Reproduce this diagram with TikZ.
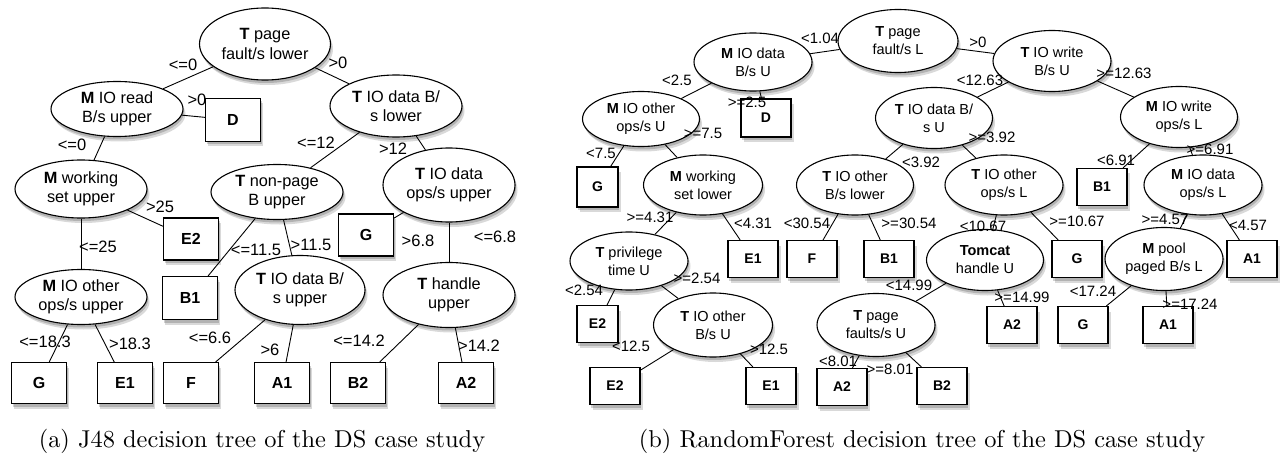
\documentclass[tikz,border=0pt]{standalone}
\usepackage{fontspec}
\newfontfamily\hv{Liberation Sans}
\usetikzlibrary{shapes.geometric,shadows,backgrounds}
\begin{document}
\begin{tikzpicture}[x=1pt,y=-1pt,
  shd/.style={drop shadow={shadow xshift=1pt,shadow yshift=-3pt,opacity=0.18,fill=black},
              drop shadow={shadow xshift=2.5pt,shadow yshift=-5pt,opacity=0.15,fill=black}},
  condA/.style={ellipse,draw,fill=white,line width=1.1pt,inner sep=0pt,align=center,shd,font=\hv\fontsize{16.3}{19.5}\selectfont},
  condB/.style={condA,font=\hv\fontsize{14.5}{18}\selectfont},
  leafA/.style={rectangle,draw,fill=white,line width=1.1pt,inner sep=0pt,shd,minimum width=55,minimum height=42,font=\hv\bfseries\fontsize{16}{19}\selectfont},
  leafB/.style={leafA,minimum width=50,minimum height=37,font=\hv\bfseries\fontsize{14}{17}\selectfont},
  labA/.style={inner sep=0pt,font=\hv\fontsize{16.5}{19}\selectfont},
  labB/.style={inner sep=0pt,font=\hv\fontsize{15}{18}\selectfont},
  conn/.style={line width=0.9pt},
  capt/.style={inner sep=0pt,anchor=base}
]
\useasboundingbox (0,0) rectangle (1281,457);

% ---------------- (a) J48 tree ----------------
\node[condA,minimum width=131,minimum height=72] (a1) at (265,44) {\textbf{T} page\\fault/s lower};
\node[condA,minimum width=132,minimum height=55] (a2) at (117,109) {\textbf{M} IO read\\B/s upper};
\node[leafA,minimum height=43] (a3) at (233,120) {D};
\node[condA,minimum width=132,minimum height=62] (a4) at (396,106) {\textbf{T} IO data B/\\s lower};
\node[condA,minimum width=132,minimum height=58] (a5) at (81,189) {\textbf{M} working\\set upper};
\node[condA,minimum width=132,minimum height=55] (a6) at (277,192) {\textbf{T} non-page\\B upper};
\node[condA,minimum width=132,minimum height=74] (a7) at (449,185) {\textbf{T} IO data\\ops/s upper};
\node[leafA] (a8) at (191,239) {E2};
\node[leafA] (a9) at (366,235) {G};
\node[condA,minimum width=132,minimum height=55] (a10) at (81,297) {\textbf{M} IO other\\ops/s upper};
\node[leafA,minimum height=43] (a11) at (190,298) {B1};
\node[condA,minimum width=130,minimum height=69] (a12) at (300,290) {\textbf{T} IO data B/\\s upper};
\node[condA,minimum width=132,minimum height=65] (a13) at (449,295) {\textbf{T} handle\\upper};
\node[leafA,minimum height=41] (a14) at (39,383) {G};
\node[leafA,minimum height=41] (a15) at (125,383) {E1};
\node[leafA,minimum height=41] (a16) at (191,383) {F};
\node[leafA,minimum height=41] (a17) at (282,383) {A1};
\node[leafA,minimum height=41] (a18) at (358,383) {B2};
\node[leafA,minimum height=41] (a19) at (466,383) {A2};

% ---------------- (b) RandomForest tree ----------------
\node[condB,minimum width=120,minimum height=63] (b1) at (898,41) {\textbf{T} page\\fault/s L};
\node[condB,minimum width=118,minimum height=58] (b2) at (753,62) {\textbf{M} IO data\\B/s U};
\node[condB,minimum width=118,minimum height=61] (b3) at (1052,61) {\textbf{T} IO write\\B/s U};
\node[condB,minimum width=117,minimum height=55] (b4) at (641,119) {\textbf{M} IO other\\ops/s U};
\node[leafB,minimum height=38] (b5) at (766,118) {D};
\node[condB,minimum width=117,minimum height=61] (b6) at (934,118) {\textbf{T} IO data B/\\s U};
\node[condB,minimum width=117,minimum height=61] (b7) at (1179,117) {\textbf{M} IO write\\ops/s L};
\node[leafB,minimum width=41,minimum height=40] (b8) at (597.5,187) {G};
\node[condB,minimum width=119,minimum height=60] (b9) at (703,185) {\textbf{M} working\\set lower};
\node[condB,minimum width=117,minimum height=60] (b10) at (855,185) {\textbf{T} IO other\\B/s lower};
\node[condB,minimum width=118,minimum height=60] (b11) at (1004,185) {\textbf{T} IO other\\ops/s L};
\node[leafB] (b12) at (1102,187) {B1};
\node[condB,minimum width=118,minimum height=60] (b13) at (1203,185) {\textbf{M} IO data\\ops/s L};
\node[condB,minimum width=118,minimum height=58] (b14) at (629,261) {\textbf{T} privilege\\time U};
\node[leafB] (b15) at (753,259) {E1};
\node[leafB] (b16) at (812,259) {F};
\node[leafB] (b17) at (889,259) {B1};
\node[condB,minimum width=117,minimum height=61] (b18) at (985,260) {\textbf{Tomcat}\\handle U};
\node[leafB] (b19) at (1077,259) {G};
\node[condB,minimum width=118,minimum height=63] (b20) at (1164,259) {\textbf{M} pool\\paged B/s L};
\node[leafB] (b21) at (1252,259) {A1};
\node[leafB,minimum width=41] (b22) at (597.5,324) {E2};
\node[condB,minimum width=119,minimum height=64] (b23) at (713,325) {\textbf{T} IO other\\B/s U};
\node[condB,minimum width=118,minimum height=63] (b24) at (876,325) {\textbf{T} page\\faults/s U};
\node[leafB] (b25) at (1012,325) {A2};
\node[leafB] (b26) at (1083,325) {G};
\node[leafB] (b27) at (1168,325) {A1};
\node[leafB] (b28) at (615,386) {E2};
\node[leafB] (b29) at (771,386) {E1};
\node[leafB] (b30) at (842,387) {A2};
\node[leafB] (b31) at (942,386) {B2};

% ---------------- connectors ----------------
\begin{scope}[on background layer]
\draw[conn] (a1)--(a2); \draw[conn] (a1)--(a4);
\draw[conn] (a2)--(a3); \draw[conn] (a2)--(a5);
\draw[conn] (a5)--(a8); \draw[conn] (a5)--(a10);
\draw[conn] (a4)--(a6); \draw[conn] (a4)--(a7);
\draw[conn] (a6)--(a11); \draw[conn] (a6)--(a12);
\draw[conn] (a7)--(a9); \draw[conn] (a7)--(a13);
\draw[conn] (a10)--(a14); \draw[conn] (a10)--(a15);
\draw[conn] (a12)--(a16); \draw[conn] (a12)--(a17);
\draw[conn] (a13)--(a18); \draw[conn] (a13)--(a19);
\draw[conn] (b1)--(b2); \draw[conn] (b1)--(b3);
\draw[conn] (b2)--(b4); \draw[conn] (b2)--(b5);
\draw[conn] (b4)--(b8); \draw[conn] (b4)--(b9);
\draw[conn] (b9)--(b14); \draw[conn] (b9)--(b15);
\draw[conn] (b14)--(b22); \draw[conn] (b14)--(b23);
\draw[conn] (b23)--(b28); \draw[conn] (b23)--(b29);
\draw[conn] (b3)--(b6); \draw[conn] (b3)--(b7);
\draw[conn] (b6)--(b10); \draw[conn] (b6)--(b11);
\draw[conn] (b7)--(b12); \draw[conn] (b7)--(b13);
\draw[conn] (b10)--(b16); \draw[conn] (b10)--(b17);
\draw[conn] (b11)--(b18); \draw[conn] (b11)--(b19);
\draw[conn] (b13)--(b20); \draw[conn] (b13)--(b21);
\draw[conn] (b18)--(b24); \draw[conn] (b18)--(b25);
\draw[conn] (b20)--(b26); \draw[conn] (b20)--(b27);
\draw[conn] (b24)--(b30); \draw[conn] (b24)--(b31);
\end{scope}

% ---------------- labels (a) ----------------
\node[labA] (la1) at (183,65) {<=0};
\node[labA] (la2) at (338,63) {>0};
\node[labA] (la3) at (197,100) {>0};
\node[labA] (la4) at (72,145) {<=0};
\node[labA] (la5) at (160,207) {>25};
\node[labA] (la6) at (98,247) {<=25};
\node[labA] (la7) at (316,143) {<=12};
\node[labA] (la8) at (393,149) {>12};
\node[labA] (la9) at (256,250) {<=11.5};
\node[labA] (la10) at (311,245) {>11.5};
\node[labA] (la11) at (418,241) {>6.8};
\node[labA] (la12) at (495,237) {<=6.8};
\node[labA] (la13) at (45,342) {<=18.3};
\node[labA] (la14) at (130,344) {>18.3};
\node[labA] (la15) at (210,338) {<=6.6};
\node[labA] (la16) at (270,350) {>6};
\node[labA] (la17) at (359,341) {<=14.2};
\node[labA] (la18) at (479,346) {>14.2};

% ---------------- labels (b) ----------------
\node[labB] (lb1) at (820,38) {<1.04};
\node[labB] (lb2) at (978,42) {>0};
\node[labB] (lb3) at (677,80) {<2.5};
\node[labB] (lb4) at (747,102) {>=2.5};
\node[labB] (lb5) at (703,133) {>=7.5};
\node[labB] (lb6) at (601,153) {<7.5};
\node[labB] (lb7) at (650,217) {>=4.31};
\node[labB] (lb8) at (753,223) {<4.31};
\node[labB] (lb9) at (807,223) {<30.54};
\node[labB] (lb10) at (909,223) {>=30.54};
\node[labB] (lb11) at (584,290) {<2.54};
\node[labB] (lb12) at (697,278) {>=2.54};
\node[labB] (lb13) at (631,346) {<12.5};
\node[labB] (lb14) at (769,349) {>12.5};
\node[labB] (lb15) at (980,80) {<12.63};
\node[labB] (lb16) at (1124,73) {>=12.63};
\node[labB] (lb17) at (992,137) {>=3.92};
\node[labB] (lb18) at (921,162) {<3.92};
\node[labB] (lb19) at (1116,160) {<6.91};
\node[labB] (lb20) at (1210,149) {>=6.91};
\node[labB] (lb21) at (983,226) {<10.67};
\node[labB] (lb22) at (1077,221) {>=10.67};
\node[labB] (lb23) at (1165,219) {>=4.57};
\node[labB] (lb24) at (1248,225) {<4.57};
\node[labB] (lb25) at (909,285) {<14.99};
\node[labB] (lb26) at (1022,297) {>=14.99};
\node[labB] (lb27) at (1093,291) {<17.24};
\node[labB] (lb28) at (1190,304) {>=17.24};
\node[labB] (lb29) at (838,361) {<8.01};
\node[labB] (lb30) at (890,369) {>=8.01};

% ---------------- captions ----------------
\node[capt] (capa) at (262,447) {\scalebox{2.44}{\fontsize{10}{12}\selectfont (a) J48 decision tree of the DS case study}};
\node[capt] (capb) at (922,447) {\scalebox{2.44}{\fontsize{10}{12}\selectfont (b) RandomForest decision tree of the DS case study}};
\end{tikzpicture}
\end{document}
